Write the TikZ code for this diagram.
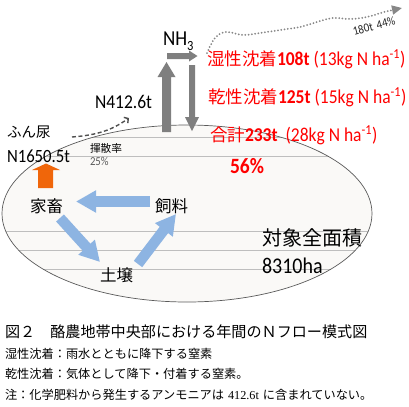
\documentclass[tikz,border=0pt]{standalone}
\usepackage{graphicx}
\usepackage{fontspec}
\setmainfont{Carlito}
\newfontfamily\jp{Noto Sans CJK JP}
\newfontfamily\lserif{Liberation Serif}
\usetikzlibrary{arrows.meta}
\definecolor{nhgray}{RGB}{127,127,127}
\definecolor{bluearr}{RGB}{141,180,226}
\definecolor{orangearr}{RGB}{240,102,10}
\definecolor{ellfill}{RGB}{250,249,247}
\definecolor{ellline}{RGB}{90,90,90}
\definecolor{gridcol}{RGB}{190,190,190}
\definecolor{dashcol}{RGB}{80,80,80}
\definecolor{dotcol}{RGB}{135,135,135}
\definecolor{txtgray}{RGB}{90,90,90}
\definecolor{redtxt}{RGB}{255,0,0}
\newcommand{\fs}[1]{\fontsize{#1bp}{#1bp}\selectfont}
\newcommand{\tallx}[1]{\scalebox{1}[1.12]{#1}}
\tikzset{
  lbl/.style={anchor=base west, inner sep=0pt, outer sep=0pt},
  redlbl/.style={lbl, text=redtxt, font=\fs{17.5}},
  jplbl/.style={lbl, font=\jp\fs{#1}},
  latlbl/.style={lbl, font=\fs{#1}},
  fatblue/.style={draw=bluearr, line width=10.5bp, -{Triangle[width=21bp,length=20bp]}},
}
\begin{document}
\begin{tikzpicture}[x=1bp,y=-1bp]
\useasboundingbox (0,0) rectangle (409,407);
% field ellipse
\fill[ellfill] (187,213.5) ellipse [x radius=185bp, y radius=88.5bp];
\begin{scope}
  \clip (187,213.5) ellipse [x radius=185bp, y radius=88.5bp];
  \foreach \yy in {137,156,231,250,269}
    \draw[gridcol, line width=0.7bp] (0,\yy) -- (409,\yy);
\end{scope}
\draw[ellline, line width=0.7bp] (187,213.5) ellipse [x radius=185bp, y radius=88.5bp];

% NH3 arrows
\fill[nhgray] (162,132) -- (162,77) -- (157.5,77) -- (166.5,62) -- (175.5,77) -- (171,77) -- (171,132) -- cycle;
\fill[nhgray] (167,53) -- (189,53) -- (189,50.5) -- (197.5,56) -- (189,61.5) -- (189,59) -- (167,59) -- cycle;
\fill[nhgray] (189,65) -- (195,65) -- (195,117) -- (199,117) -- (192,131) -- (185,117) -- (189,117) -- cycle;
\node[lbl, font=\fs{19}] (nh3) at (163,45) {\tallx{NH}\raisebox{-5bp}{\fs{12.5}\tallx{3}}};

% volatilisation
\node[latlbl=17.5] (n412) at (95,108) {\tallx{N412.6t}};
\coordinate (dashA) at (72,137);
\coordinate (dashB) at (129,118);
\draw[dashcol, line width=1.4bp, dash pattern=on 4bp off 2.5bp, -{Straight Barb[length=3bp,width=7bp]}]
  (dashA) .. controls (98,135) and (112,130) .. (dashB);
\node[jplbl=10.7] (kisan) at (90,152) {揮散率};
\node[latlbl=10.8, text=txtgray] (p25) at (90,165) {\tallx{25\%}};

% manure
\node[jplbl=14.5] (funnyo) at (7,137) {ふん尿};
\node[latlbl=16.7] (n1650) at (7,162) {\tallx{N1650.5t}};
\fill[orangearr] (38,188) -- (38,170) -- (32,170) -- (46,163.5) -- (60,170) -- (53,170) -- (53,188) -- cycle;

% cycle
\node[jplbl=16.5] (kachiku) at (30,212) {家畜};
\node[jplbl=16.5] (shiryo) at (155,212) {飼料};
\node[jplbl=16.5] (dojo) at (100,281) {土壌};
\coordinate (b1s) at (150,201.5);
\coordinate (b1e) at (76,201.5);
\coordinate (b2s) at (60,218);
\coordinate (b2e) at (100,262);
\coordinate (b3s) at (138,264);
\coordinate (b3e) at (176,214);
\draw[fatblue] (b1s) -- (b1e);
\draw[fatblue] (b2s) -- (b2e);
\draw[fatblue] (b3s) -- (b3e);

% area
\node[jplbl=20] (area) at (262,245) {対象全面積};
\node[latlbl=20] (ha) at (262,273) {\tallx{8310ha}};

% deposition
\node[redlbl] (wet) at (207,65.5) {{\jp 湿性沈着}\tallx{\textbf{108t} (13kg N ha\textsuperscript{-1})}};
\node[redlbl] (dry) at (208,103) {{\jp 乾性沈着}\tallx{\textbf{125t} (15kg N ha\textsuperscript{-1})}};
\node[redlbl] (tot) at (210,141) {{\jp 合計}\tallx{\textbf{233t}\ \ (28kg N ha\textsuperscript{-1})}};
\node[lbl, text=redtxt, font=\bfseries\fs{19.5}] (p56) at (230,173) {\tallx{56\%}};

% export dotted curve
\draw[dotcol, line width=2bp, line cap=round, dash pattern=on 0bp off 3.3bp, -{Triangle[length=10bp,width=9bp]}]
  plot[smooth, tension=0.6] coordinates {(207,53) (215,38) (226,32) (243,35) (260,33) (280,30) (300,27) (317,22) (333,18) (350,19) (367,17) (384,12) (402,8)};
\node[rotate=15, inner sep=0pt, font=\fs{11}, text=black!85] (exp) at (374,26) {\tallx{180t\hspace{4bp}44\%}};

% caption
\node[jplbl=15.1] (cap1) at (5,337) {図２　酪農地帯中央部における年間のＮフロー模式図};
\node[jplbl=12.2] (cap2) at (5,358) {湿性沈着：雨水とともに降下する窒素};
\node[jplbl=12.2] (cap3) at (5,378) {乾性沈着：気体として降下・付着する窒素。};
\node[jplbl=12.2] (cap4) at (5,399) {注：化学肥料から発生するアンモニアは\hspace{4bp}{\lserif 412.6t}\hspace{4bp}に含まれていない。};
\end{tikzpicture}
\end{document}
